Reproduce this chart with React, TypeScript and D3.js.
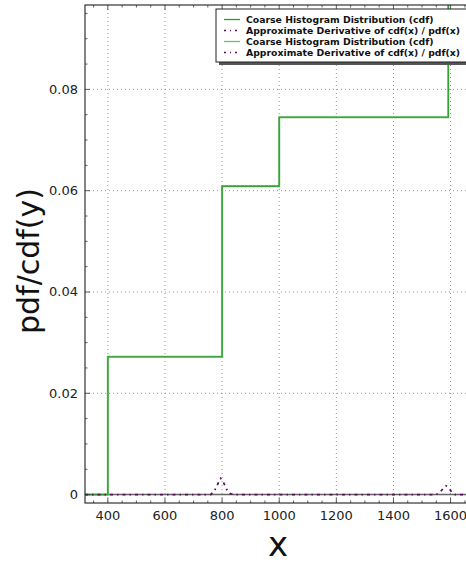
import React from "react";
import * as d3 from "d3";

// step cdf from the coarse histogram
const cdfX = [320, 400, 800, 1000, 1592, 1700];
const cdfY = [0, 0.0272, 0.0609, 0.0745, 0.12, 0.12];

// approximate derivative (mostly zero, two bumps)
const pdfX = [320, 760, 772, 785, 795, 805, 815, 828, 840, 1550, 1562, 1574, 1584, 1594, 1604, 1616, 1700];
const pdfY = [0, 0, 0.0006, 0.0021, 0.0032, 0.0024, 0.0011, 0.0002, 0, 0, 0.0004, 0.0012, 0.0017, 0.0013, 0.0005, 0, 0];

const xTicks = [400, 600, 800, 1000, 1200, 1400, 1600];
const yTicks = [0, 0.02, 0.04, 0.06, 0.08];
const legendLabels = [
  "Coarse Histogram Distribution (cdf)",
  "Approximate Derivative of cdf(x) / pdf(x)",
  "Coarse Histogram Distribution (cdf)",
  "Approximate Derivative of cdf(x) / pdf(x)",
];

const W = 466;
const H = 565;
const left = 85;
const right = 480;
const top = 5;
const bottom = 503;

const App: React.FC = () => {
  const x = d3.scaleLinear().domain([320, 1703]).range([left, right]);
  const y = d3.scaleLinear().domain([-0.00166, 0.09666]).range([bottom, top]);

  const cdfPts = cdfX.map((v, i) => [v, cdfY[i]] as [number, number]);
  const pdfPts = pdfX.map((v, i) => [v, pdfY[i]] as [number, number]);

  const stepLine = d3
    .line<[number, number]>()
    .x((d) => x(d[0]))
    .y((d) => y(d[1]))
    .curve(d3.curveStepAfter);
  const plainLine = d3
    .line<[number, number]>()
    .x((d) => x(d[0]))
    .y((d) => y(d[1]));

  const xMinor = d3.range(350, 1701, 50).filter((v) => v % 200 !== 0);
  const yMinor = d3.range(0, 0.0966, 0.005).filter((_, i) => i % 4 !== 0);

  const font = "DejaVu Sans, sans-serif";
  const green1 = "#2a9d2a";
  const green2 = "#6cc06c";
  const purple = "#5a0f5a";

  return (
    <svg
      width={W}
      height={H}
      style={{ position: "absolute", left: 0, top: 0, background: "#fff" }}
      fontFamily={font}
    >
      <defs>
        <clipPath id="plot">
          <rect x={left} y={top} width={right - left} height={bottom - top} />
        </clipPath>
      </defs>

      {/* grid */}
      <g stroke="#777" strokeWidth={0.8} strokeDasharray="1,3">
        {xTicks.map((t) => (
          <line key={"gx" + t} x1={x(t)} x2={x(t)} y1={top} y2={bottom} />
        ))}
        {yTicks.map((t) => (
          <line key={"gy" + t} x1={left} x2={right} y1={y(t)} y2={y(t)} />
        ))}
      </g>

      <g clipPath="url(#plot)">
        {/* zero line */}
        <line x1={left} x2={right} y1={y(0)} y2={y(0)} stroke="#666" strokeWidth={1.5} />
        <path d={stepLine(cdfPts) ?? ""} fill="none" stroke={green2} strokeWidth={2} />
        <path d={stepLine(cdfPts) ?? ""} fill="none" stroke={green1} strokeWidth={1.1} />
        <path
          d={plainLine(pdfPts) ?? ""}
          fill="none"
          stroke={purple}
          strokeWidth={1.8}
          strokeDasharray="3,4,1.5,4"
        />
      </g>

      {/* frame */}
      <rect x={left} y={top} width={right - left} height={bottom - top} fill="none" stroke="#333" strokeWidth={1.2} />

      {/* ticks */}
      <g stroke="#333" strokeWidth={0.8}>
        {xTicks.map((t) => (
          <g key={"tx" + t}>
            <line x1={x(t)} x2={x(t)} y1={bottom} y2={bottom - 5} />
            <line x1={x(t)} x2={x(t)} y1={top} y2={top + 5} />
          </g>
        ))}
        {xMinor.map((t) => (
          <g key={"mx" + t}>
            <line x1={x(t)} x2={x(t)} y1={bottom} y2={bottom - 2.5} />
            <line x1={x(t)} x2={x(t)} y1={top} y2={top + 2.5} />
          </g>
        ))}
        {yTicks.map((t) => (
          <line key={"ty" + t} x1={left} x2={left + 5} y1={y(t)} y2={y(t)} />
        ))}
        {yMinor.map((t) => (
          <line key={"my" + t} x1={left} x2={left + 2.5} y1={y(t)} y2={y(t)} />
        ))}
      </g>

      {/* tick labels */}
      <g fontSize={13} fill="#222">
        {xTicks.map((t) => (
          <text key={"lx" + t} x={x(t)} y={bottom + 17} textAnchor="middle">
            {t}
          </text>
        ))}
        {yTicks.map((t) => (
          <text key={"ly" + t} x={left - 7} y={y(t) + 4.5} textAnchor="end">
            {t === 0 ? "0" : d3.format(".2f")(t)}
          </text>
        ))}
      </g>

      {/* axis titles */}
      <text x={278} y={556} fontSize={34} textAnchor="middle" fill="#111">
        x
      </text>
      <text
        transform="translate(39,261) rotate(-90)"
        fontSize={30}
        textAnchor="middle"
        fill="#111"
      >
        pdf/cdf(y)
      </text>

      {/* legend */}
      <g>
        <rect x={219} y={12} width={260} height={53} fill="#555" />
        <rect x={216} y={9} width={260} height={53} fill="#fff" stroke="#222" strokeWidth={1} />
        {legendLabels.map((lab, i) => {
          const ly = 19.5 + i * 11;
          const isCdf = i % 2 === 0;
          const col = isCdf ? (i === 0 ? green1 : green2) : purple;
          return (
            <g key={"lg" + i}>
              <line
                x1={224}
                x2={240}
                y1={ly}
                y2={ly}
                stroke={col}
                strokeWidth={isCdf ? 1.3 : 1.6}
                strokeDasharray={isCdf ? undefined : "2,4,1,4"}
              />
              <text x={246} y={ly + 3.5} fontSize={9.3} fontWeight="bold" fill="#111">
                {lab}
              </text>
            </g>
          );
        })}
      </g>
    </svg>
  );
};

export default App;
